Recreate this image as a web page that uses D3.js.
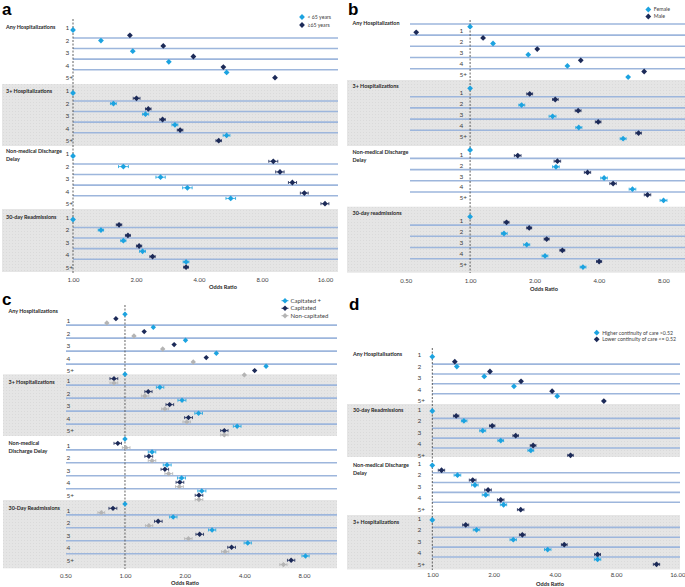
<!DOCTYPE html>
<html lang="en">
<head>
<meta charset="UTF-8">
<title>Odds ratios by number of chronic conditions</title>
<style>
  body { margin: 0; background: #fff; }
  svg { display: block; font-family: Lato, "Open Sans", sans-serif; }
</style>
</head>
<body>
<svg width="685" height="587"></svg>
<script src="https://cdn.jsdelivr.net/npm/d3@7"></script>
<script>
var rowLabels = ["1", "2", "3", "4", "5+"];

// values are [odds ratio, lower CI, upper CI]; one value = no visible CI
// panel a: age
var aSeries = ["< 65 years", "≥65 years"];
var aSections = [["Any Hospitalizations"], ["3+ Hospitalizations"], ["Non-medical Discharge", "Delay"], ["30-day Readmissions"]];
var aTicks = [1, 2, 4, 8, 16];
var aUnder65 = [
  [[1.00], [1.36], [1.93], [2.87], [5.42]],
  [[1.00], [1.56, 1.51, 1.61], [2.22, 2.15, 2.30], [3.07, 2.97, 3.17], [5.42, 5.22, 5.62]],
  [[1.00], [1.74, 1.65, 1.84], [2.62, 2.49, 2.76], [3.52, 3.34, 3.71], [5.67, 5.38, 5.98]],
  [[1.00], [1.36, 1.32, 1.40], [1.74, 1.69, 1.79], [2.15, 2.08, 2.22], [3.47, 3.36, 3.58]]
];
var aOver65 = [
  [[1.87], [2.70], [3.76], [5.23], [9.23]],
  [[2.01, 1.94, 2.09], [2.29, 2.22, 2.36], [2.68, 2.60, 2.76], [3.25, 3.15, 3.35], [4.97, 4.82, 5.12]],
  [[9.06, 8.62, 9.52], [9.75, 9.30, 10.2], [11.17, 10.7, 11.7], [12.75, 12.2, 13.3], [16.0, 15.3, 16.7]],
  [[1.66, 1.61, 1.71], [1.83, 1.78, 1.88], [2.07, 2.01, 2.13], [2.40, 2.33, 2.47], [3.47, 3.38, 3.56]]
];
var aOrder = [[0, 1], [0, 1], [0, 1], [0, 1], [0, 1]];

// panel b: sex
var bSeries = ["Female", "Male"];
var bSections = [["Any Hospitalization"], ["3+ Hospitalizations"], ["Non-medical Discharge", "Delay"], ["30-day readmissions"]];
var bTicks = [0.5, 1, 2, 4, 8];
var bFemale = [
  [[1.00], [1.28], [1.87], [2.85], [5.48]],
  [[1.00], [1.74, 1.69, 1.80], [2.43, 2.34, 2.52], [3.22, 3.12, 3.33], [5.19, 5.03, 5.36]],
  [[1.00], [2.52, 2.43, 2.61], [4.23, 4.08, 4.38], [5.74, 5.54, 5.95], [8.02, 7.73, 8.32]],
  [[1.00], [1.44, 1.40, 1.49], [1.84, 1.78, 1.90], [2.24, 2.17, 2.31], [3.37, 3.27, 3.48]]
];
var bMale = [
  [[0.56], [1.15], [2.06], [3.29], [6.51]],
  [[1.90, 1.84, 1.96], [2.50, 2.43, 2.58], [3.20, 3.10, 3.30], [3.97, 3.85, 4.09], [6.13, 5.95, 6.32]],
  [[1.67, 1.61, 1.73], [2.56, 2.47, 2.65], [3.54, 3.42, 3.66], [4.66, 4.50, 4.82], [6.75, 6.52, 6.99]],
  [[1.48, 1.44, 1.52], [1.89, 1.84, 1.94], [2.28, 2.22, 2.34], [2.70, 2.63, 2.77], [4.01, 3.90, 4.12]]
];
var bOrder = [[0, 1], [1, 0], [1, 0], [1, 0], [1, 0]];

// panel c: capitation
var cSeries = ["Capitated +", "Capitated", "Non-capitated"];
var cSections = [["Any Hospitalizations"], ["3+ Hospitalizations"], ["Non-medical", "Discharge Delay"], ["30-Day Readmissions"]];
var cTicks = [0.5, 1, 2, 4, 8];
var cCapPlus = [
  [[1.00], [1.39], [2.02], [2.89], [5.15]],
  [[1.00], [1.50, 1.44, 1.57], [1.94, 1.85, 2.03], [2.35, 2.25, 2.46], [3.68, 3.52, 3.85]],
  [[1.00], [1.37, 1.31, 1.43], [1.63, 1.56, 1.71], [1.93, 1.84, 2.02], [2.44, 2.33, 2.56]],
  [[1.00], [1.75, 1.68, 1.83], [2.75, 2.64, 2.87], [4.16, 3.99, 4.34], [8.14, 7.81, 8.49]]
];
var cCap = [
  [[0.90], [1.25], [1.77], [2.57], [4.51]],
  [[0.88, 0.84, 0.92], [1.31, 1.26, 1.37], [1.68, 1.61, 1.76], [2.09, 2.00, 2.19], [3.17, 3.04, 3.31]],
  [[0.92, 0.88, 0.96], [1.32, 1.26, 1.38], [1.59, 1.52, 1.66], [1.89, 1.81, 1.98], [2.36, 2.26, 2.47]],
  [[0.87, 0.83, 0.91], [1.47, 1.41, 1.54], [2.38, 2.28, 2.49], [3.45, 3.30, 3.61], [6.89, 6.60, 7.19]]
];
var cNonCap = [
  [[0.81], [1.11], [1.55], [2.21], [4.00]],
  [[0.88, 0.84, 0.92], [1.26, 1.21, 1.32], [1.59, 1.53, 1.66], [2.05, 1.96, 2.14], [3.17, 3.04, 3.31]],
  [[1.01, 0.97, 1.06], [1.37, 1.31, 1.43], [1.66, 1.59, 1.74], [1.88, 1.80, 1.97], [2.36, 2.26, 2.47]],
  [[0.76, 0.73, 0.79], [1.32, 1.27, 1.38], [2.09, 2.00, 2.18], [3.20, 3.07, 3.34], [6.30, 6.04, 6.57]]
];
var cOrder = [[0, 1, 2], [0, 1, 2], [0, 1, 2], [0, 1, 2], [0, 1, 2]];

// panel d: continuity of care
var dSeries = ["Higher continuity of care >0.52", "Lower continuity of care <= 0.52"];
var dSections = [["Any Hospitalisations"], ["30-day Readmissions"], ["Non-medical Discharge", "Delay"], ["3+ Hospitalizations"]];
var dTicks = [1, 2, 4, 8, 16];
var dHigher = [
  [[1.00], [1.32], [1.80], [2.52], [4.11]],
  [[1.00], [1.43, 1.39, 1.48], [1.77, 1.71, 1.83], [2.17, 2.10, 2.24], [3.05, 2.95, 3.15]],
  [[1.00], [1.33, 1.28, 1.38], [1.62, 1.56, 1.68], [1.83, 1.76, 1.90], [2.24, 2.16, 2.32]],
  [[1.00], [1.65, 1.59, 1.71], [2.50, 2.41, 2.59], [3.69, 3.56, 3.83], [6.49, 6.26, 6.73]]
];
var dLower = [
  [[1.29], [1.92], [2.73], [3.88], [6.97]],
  [[1.31, 1.27, 1.35], [1.97, 1.91, 2.03], [2.57, 2.49, 2.65], [3.13, 3.03, 3.23], [4.78, 4.63, 4.93]],
  [[1.11, 1.07, 1.15], [1.58, 1.52, 1.64], [1.88, 1.81, 1.95], [2.17, 2.09, 2.25], [2.72, 2.62, 2.82]],
  [[1.46, 1.41, 1.51], [2.77, 2.68, 2.86], [4.45, 4.31, 4.60], [6.49, 6.28, 6.71], [12.65, 12.2, 13.1]]
];
var dOrder = [[0, 1], [0, 1], [0, 1], [0, 1], [0, 1]];

var LIGHT = "#1ca3e0", DARK = "#1c2a58", GREY = "#b4b4b4";

var panels = [
  { letter: "a", letterPos: [2, 15], names: aSeries, data: [aUnder65, aOver65], colors: [LIGHT, DARK], order: aOrder,
    sections: aSections, ticks: aTicks, domain: [1, 16], range: [73, 325],
    secY: [[20, 84], [84, 146], [146, 209], [209, 272]], bgX: [2, 338], lineX: [73, 338],
    firstY: [30, 93, 156, 219.5], step: 5.3, rowOff: -2, rowStep: 12.45, rowX: 65.5,
    secX: 6, secLabelY: [26.7, 90.7, 150.7, 217.3], dashY: [19, 273], tickY: 280, titlePos: [223, 287],
    legX: 302, legY: [17, 25], r: 2.9 },
  { letter: "b", letterPos: [348, 15], names: bSeries, data: [bFemale, bMale], colors: [LIGHT, DARK], order: bOrder,
    sections: bSections, ticks: bTicks, domain: [0.5, 8], range: [405.7, 663.3],
    secY: [[20, 80], [80, 146], [146, 206.7], [206.7, 272.7]], bgX: [347, 685], lineX: [410, 685], topLine: true,
    firstY: [26.7, 88.3, 150, 216.7], step: 5.6, rowOff: 4.5, rowStep: 10.9, rowX: 459.5,
    secX: 352.5, secLabelY: [23.3, 86, 151.7, 212.7], dashY: [20, 273], tickY: 281, titlePos: [544, 289],
    legX: 648.3, legY: [9.5, 16.5], r: 2.9 },
  { letter: "c", letterPos: [2, 305], names: cSeries, data: [cCapPlus, cCap, cNonCap], colors: [LIGHT, DARK, GREY], order: cOrder,
    sections: cSections, ticks: cTicks, domain: [0.5, 8], range: [65.3, 304],
    secY: [[305, 374.3], [374.3, 436], [436, 500], [500, 568.3]], bgX: [3, 337], lineX: [66, 337],
    firstY: [314.3, 374.3, 439, 504], step: 4.33, rowOff: 6.5, rowStep: 12.5, rowX: 66.5,
    secX: 8.5, secLabelY: [310.7, 381.7, 442.7, 508.3], dashY: [305, 569], tickY: 576, titlePos: [185, 583.5],
    legX: 285, legY: [300.7, 308.3, 315.7], legDash: true, r: 2.7 },
  { letter: "d", letterPos: [349, 310], names: dSeries, data: [dHigher, dLower], colors: [LIGHT, DARK], order: dOrder,
    sections: dSections, ticks: dTicks, domain: [1, 16], range: [432.3, 677.3],
    secY: [[348, 404], [404, 457], [457, 515], [515, 569.5]], bgX: [347, 680], lineX: [432, 680],
    firstY: [356.7, 411, 465.3, 520], step: 4.93, rowOff: -1.6, rowStep: 11.5, rowX: 417.5,
    secX: 353, secLabelY: [354.3, 410, 464.7, 521.7], dashY: [348, 570], tickY: 575, titlePos: [550, 584.5],
    legX: 596.7, legY: [332.7, 339.3], r: 2.9 }
];

var svg = d3.select("svg");

// stippled grey background used behind alternate sections
var defs = svg.append("defs");
var pat = defs.append("pattern").attr("id", "dots")
  .attr("width", 3).attr("height", 3).attr("patternUnits", "userSpaceOnUse");
pat.append("rect").attr("width", 3).attr("height", 3).attr("fill", "#e5e5e5");
pat.append("rect").attr("width", 1).attr("height", 1).attr("fill", "#dadada");

function diamond(r) {
  return "M0," + (-r) + "L" + r + ",0L0," + r + "L" + (-r) + ",0Z";
}

panels.forEach(function (p) {
  var g = svg.append("g");
  var x = d3.scaleLog().base(2).domain(p.domain).range(p.range);
  var n = p.data.length;

  // section backgrounds
  p.secY.forEach(function (s, i) {
    if (i % 2 == 1) {
      g.append("rect")
        .attr("x", p.bgX[0]).attr("y", s[0])
        .attr("width", p.bgX[1] - p.bgX[0]).attr("height", s[1] - s[0])
        .attr("fill", "url(#dots)");
    }
  });

  // separator lines between the rows of each section
  p.firstY.forEach(function (fy, s) {
    var ys = [];
    for (var k = 0; k < 4; k++) ys.push(fy + ((k + 1) * n - 0.5) * p.step);
    if (p.topLine && s == 0) ys.unshift(fy - 2.7);
    g.selectAll(null).data(ys).enter().append("line")
      .attr("x1", p.lineX[0]).attr("x2", p.lineX[1])
      .attr("y1", function (d) { return d; }).attr("y2", function (d) { return d; })
      .attr("stroke", "#9db6dc").attr("stroke-width", 1.6);
  });

  // section labels and row labels
  p.sections.forEach(function (lines, s) {
    lines.forEach(function (t, li) {
      g.append("text")
        .attr("x", p.secX)
        .attr("y", p.secLabelY[s] + li * 8)
        .attr("dy", "0.35em")
        .attr("font-size", 5.4).attr("font-weight", "bold").attr("fill", "#262626")
        .text(t);
    });
    g.selectAll(null).data(rowLabels).enter().append("text")
      .attr("x", p.rowX)
      .attr("y", function (d, k) { return p.firstY[s] + p.rowOff + k * p.rowStep; })
      .attr("dy", "0.35em")
      .attr("font-size", 6.5).attr("fill", "#404040")
      .text(function (d) { return d; });
  });

  // reference line at OR = 1
  g.append("line")
    .attr("x1", x(1)).attr("x2", x(1))
    .attr("y1", p.dashY[0]).attr("y2", p.dashY[1])
    .attr("stroke", "#505050").attr("stroke-width", 0.9).attr("stroke-dasharray", "2,1.5");

  // points
  var pts = [];
  p.firstY.forEach(function (fy, s) {
    p.order.forEach(function (ord, k) {
      ord.forEach(function (si, j) {
        var v = p.data[si][s][k];
        pts.push({ series: si, or: v[0], lo: v[1], hi: v[2], y: fy + (k * n + j) * p.step });
      });
    });
  });

  var ci = pts.filter(function (d) { return d.lo != null; });
  g.selectAll(null).data(ci).enter().append("path")
    .attr("d", function (d) {
      var a = x(d.lo), b = x(d.hi), y = d.y;
      return "M" + a + "," + y + "H" + b +
        "M" + a + "," + (y - 1.5) + "V" + (y + 1.5) +
        "M" + b + "," + (y - 1.5) + "V" + (y + 1.5);
    })
    .attr("fill", "none")
    .attr("stroke", function (d) { return p.colors[d.series]; })
    .attr("stroke-width", 0.8);

  g.selectAll(null).data(pts).enter().append("path")
    .attr("transform", function (d) { return "translate(" + x(d.or) + "," + d.y + ")"; })
    .attr("d", diamond(p.r))
    .attr("fill", function (d) { return p.colors[d.series]; });

  // x axis: tick labels only
  var axis = d3.axisBottom(x).tickValues(p.ticks).tickFormat(d3.format(".2f")).tickSize(0).tickPadding(0);
  var ax = g.append("g").attr("transform", "translate(0," + (p.tickY - 2.3) + ")").call(axis);
  ax.select(".domain").remove();
  ax.selectAll("text").attr("font-size", 6).attr("font-family", "Lato, sans-serif").attr("fill", "#404040");

  g.append("text")
    .attr("x", p.titlePos[0]).attr("y", p.titlePos[1])
    .attr("dy", "0.35em").attr("text-anchor", "middle")
    .attr("font-size", 5.6).attr("font-weight", "bold").attr("fill", "#262626")
    .text("Odds Ratio");

  // legend
  p.names.forEach(function (name, i) {
    var ly = p.legY[i];
    if (p.legDash) {
      g.append("line").attr("x1", p.legX - 3.5).attr("x2", p.legX + 3.5)
        .attr("y1", ly).attr("y2", ly).attr("stroke", p.colors[i]).attr("stroke-width", 0.9);
    }
    g.append("path").attr("transform", "translate(" + p.legX + "," + ly + ")")
      .attr("d", diamond(p.r)).attr("fill", p.colors[i]);
    g.append("text").attr("x", p.legX + 5.5).attr("y", ly).attr("dy", "0.35em")
      .attr("font-size", p.legDash ? 6 : 5.2).attr("fill", "#404040").text(name);
  });

  // panel letter
  g.append("text")
    .attr("x", p.letterPos[0]).attr("y", p.letterPos[1])
    .attr("font-family", "'Liberation Sans', Arial, sans-serif")
    .attr("font-size", 17).attr("font-weight", "bold").attr("fill", "#000")
    .text(p.letter);
});
</script>
</body>
</html>
